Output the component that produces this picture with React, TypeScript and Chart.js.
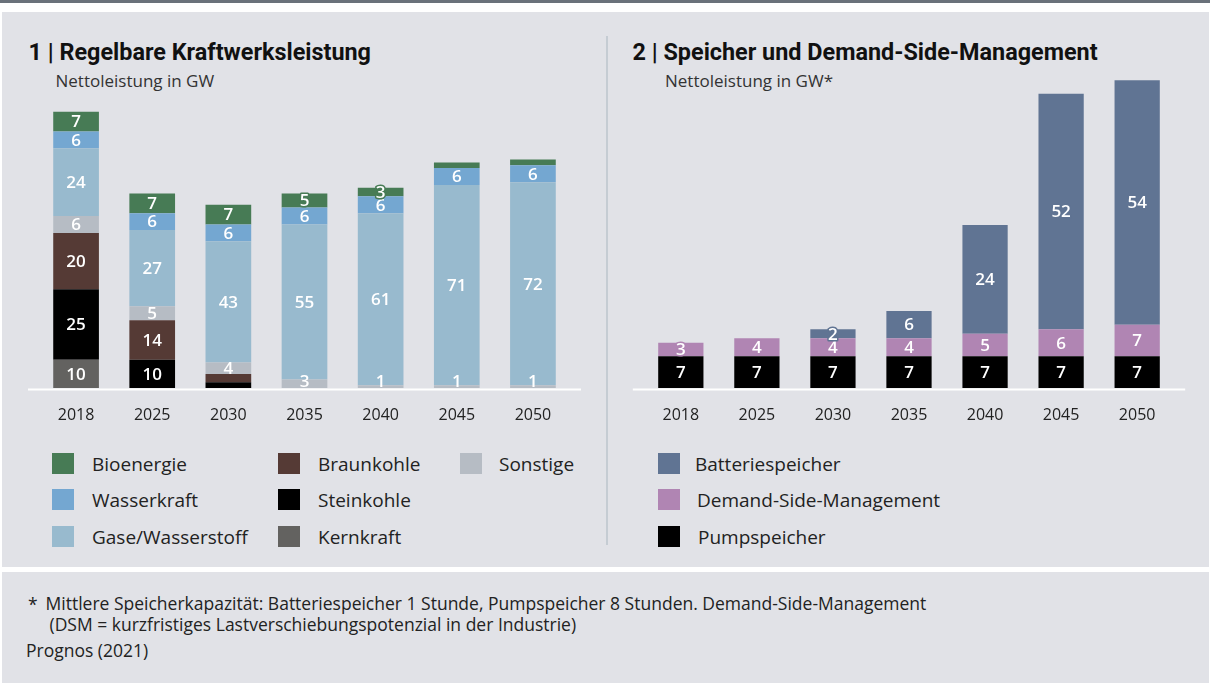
import React, { useEffect, useRef } from 'react';
import { Chart, registerables } from 'chart.js';

Chart.register(...registerables);

// ---------- data ----------
const years = ['2018', '2025', '2030', '2035', '2040', '2045', '2050'];

// Chart 1: Regelbare Kraftwerksleistung (GW)
const kernkraft = [10, 0, 0, 0, 0, 0, 0];
const steinkohle = [25, 10, 2, 0, 0, 0, 0];
const braunkohle = [20, 14, 3, 0, 0, 0, 0];
const sonstige = [6, 5, 4, 3, 1, 1, 1];
const gaseWasserstoff = [24, 27, 43, 55, 61, 71, 72];
const wasserkraft = [6, 6, 6, 6, 6, 6, 6];
const bioenergie = [7, 7, 7, 5, 3, 2, 2];

// Chart 2: Speicher und Demand-Side-Management (GW)
const pumpspeicher = [7, 7, 7, 7, 7, 7, 7];
const demandSide = [3, 4, 4, 4, 5, 6, 7];
const batteriespeicher = [0, 0, 2, 6, 24, 52, 54];

const FONT = '"Open Sans", sans-serif';

const leftSeries = [
  { label: 'Kernkraft', data: kernkraft, color: '#636260', minLabel: 4 },
  { label: 'Steinkohle', data: steinkohle, color: '#000000', minLabel: 4 },
  { label: 'Braunkohle', data: braunkohle, color: '#553a35', minLabel: 4 },
  { label: 'Sonstige', data: sonstige, color: '#b6bcc4', minLabel: 1 },
  { label: 'Gase/Wasserstoff', data: gaseWasserstoff, color: '#98bace', minLabel: 1 },
  { label: 'Wasserkraft', data: wasserkraft, color: '#74a7d1', minLabel: 1 },
  { label: 'Bioenergie', data: bioenergie, color: '#477b55', minLabel: 3 },
];

const rightSeries = [
  { label: 'Pumpspeicher', data: pumpspeicher, color: '#000000', minLabel: 1 },
  { label: 'Demand-Side-Management', data: demandSide, color: '#b085b3', minLabel: 1 },
  { label: 'Batteriespeicher', data: batteriespeicher, color: '#607493', minLabel: 1 },
];

const baseLinePlugin = {
  id: 'baseLine',
  afterDatasetsDraw(chart: any) {
    const { ctx, chartArea } = chart;
    ctx.save();
    ctx.fillStyle = '#ffffff';
    ctx.fillRect(chartArea.left - 10, chartArea.bottom + 0.5, chartArea.right - chartArea.left + 20, 2);
    ctx.restore();
  },
};

const barLabelPlugin = {
  id: 'barLabels',
  afterDatasetsDraw(chart: any) {
    const { ctx, chartArea } = chart;
    const n = chart.data.labels.length;
    const dsCount = chart.data.datasets.length;
    for (let i = 0; i < n; i++) {
      let topIdx = -1;
      for (let d = dsCount - 1; d >= 0; d--) {
        if (chart.data.datasets[d].data[i] > 0) { topIdx = d; break; }
      }
      for (let d = 0; d < dsCount; d++) {
        const ds = chart.data.datasets[d];
        const v = ds.data[i];
        if (!v || v < ds.minLabel) continue;
        const el = chart.getDatasetMeta(d).data[i];
        const p = el.getProps(['x', 'y', 'base'], true);
        let cy = (p.y + p.base) / 2;
        cy = Math.min(cy, chartArea.bottom - 7);
        ctx.save();
        ctx.font = `600 17px ${FONT}`;
        ctx.textAlign = 'center';
        ctx.textBaseline = 'middle';
        if (d === topIdx) {
          ctx.lineWidth = 3;
          ctx.lineJoin = 'round';
          ctx.strokeStyle = ds.backgroundColor;
          ctx.strokeText(String(v), p.x, cy + 1);
        }
        ctx.fillStyle = '#ffffff';
        ctx.fillText(String(v), p.x, cy + 1);
        ctx.restore();
      }
    }
  },
};

function makeConfig(series: any[], yMax: number, pad: any, barPct: number) {
  return {
    type: 'bar' as const,
    data: {
      labels: years,
      datasets: series.map((s) => ({
        label: s.label,
        data: s.data,
        backgroundColor: s.color,
        borderWidth: 0,
        barPercentage: barPct,
        categoryPercentage: 1,
        minLabel: s.minLabel,
      })),
    },
    options: {
      animation: false as const,
      responsive: false,
      maintainAspectRatio: false,
      layout: { padding: pad },
      plugins: { legend: { display: false }, tooltip: { enabled: false } },
      scales: {
        x: {
          stacked: true,
          grid: { display: false, drawTicks: false },
          border: { display: false },
          ticks: { font: { family: 'Open Sans', size: 16 }, color: '#222222', padding: 18 },
          afterFit: (s: any) => { s.height = 52; },
        },
        y: { stacked: true, display: false, min: 0, max: yMax },
      },
    },
    plugins: [baseLinePlugin, barLabelPlugin],
  };
}

function BarCanvas(props: { series: any[]; yMax: number; pad: any; barPct: number; style: any; w: number; h: number }) {
  const ref = useRef<HTMLCanvasElement | null>(null);
  useEffect(() => {
    if (!ref.current) return;
    const chart = new Chart(ref.current, makeConfig(props.series, props.yMax, props.pad, props.barPct) as any);
    return () => chart.destroy();
  }, []);
  return <canvas ref={ref} width={props.w} height={props.h} style={{ position: 'absolute', ...props.style }} />;
}

function LegendItem(props: { x: number; y: number; tx: number; color: string; label: string }) {
  return (
    <>
      <div style={{ position: 'absolute', left: props.x, top: props.y - 10.5, width: 22, height: 21, background: props.color }} />
      <div style={{ position: 'absolute', left: props.tx, top: props.y - 12, height: 24, lineHeight: '24px', fontSize: 19, color: '#222', whiteSpace: 'nowrap' }}>{props.label}</div>
    </>
  );
}

export default function App() {
  const rows = [463.5, 499.5, 536.5];
  const col = (name: string) => leftSeries.find((s) => s.label === name)!.color;
  const rcol = (name: string) => rightSeries.find((s) => s.label === name)!.color;
  const titleStyle = { position: 'absolute' as const, top: 41.3, fontFamily: 'Roboto, sans-serif', fontWeight: 700, fontSize: 23.4, lineHeight: '23.4px', color: '#111', whiteSpace: 'nowrap' as const };
  const subStyle = { position: 'absolute' as const, top: 71.9, fontSize: 17, lineHeight: '17px', color: '#333', whiteSpace: 'nowrap' as const };
  const footStyle = { position: 'absolute' as const, fontSize: 17.5, lineHeight: '17.5px', color: '#222', whiteSpace: 'nowrap' as const };
  return (
    <div style={{ position: 'fixed', left: 0, top: 0, width: 1210, height: 683, background: '#ffffff', fontFamily: FONT, overflow: 'hidden' }}>
      <div style={{ position: 'absolute', left: 0, top: 0, width: 1210, height: 3, background: '#6a717a' }} />
      <div style={{ position: 'absolute', left: 2, top: 12, width: 1207, height: 555, background: '#e1e2e7' }} />
      <div style={{ position: 'absolute', left: 2, top: 572, width: 1207, height: 111, background: '#e1e2e7' }} />
      <div style={{ position: 'absolute', left: 606, top: 36, width: 1.5, height: 509, background: '#c5ccd3' }} />

      <div style={{ ...titleStyle, left: 28.5 }}>1 | Regelbare Kraftwerksleistung</div>
      <div style={{ ...subStyle, left: 55.5 }}>Nettoleistung in GW</div>

      <div style={{ ...titleStyle, left: 632.5 }}>2 | Speicher und Demand-Side-Management</div>
      <div style={{ ...subStyle, left: 665 }}>Nettoleistung in GW*</div>

      <BarCanvas series={leftSeries} yMax={100} pad={{ left: 38, right: 29, top: 16, bottom: 0 }} barPct={0.6} w={600} h={350} style={{ left: 0, top: 90 }} />
      <BarCanvas series={rightSeries} yMax={70} pad={{ left: 42.8, right: 34.8, top: 31.2, bottom: 0 }} barPct={0.595} w={610} h={400} style={{ left: 600, top: 40 }} />

      <LegendItem x={52} y={rows[0]} tx={92} color={col('Bioenergie')} label="Bioenergie" />
      <LegendItem x={52} y={rows[1]} tx={92} color={col('Wasserkraft')} label="Wasserkraft" />
      <LegendItem x={52} y={rows[2]} tx={92} color={col('Gase/Wasserstoff')} label="Gase/Wasserstoff" />
      <LegendItem x={278} y={rows[0]} tx={318} color={col('Braunkohle')} label="Braunkohle" />
      <LegendItem x={278} y={rows[1]} tx={318} color={col('Steinkohle')} label="Steinkohle" />
      <LegendItem x={278} y={rows[2]} tx={318} color={col('Kernkraft')} label="Kernkraft" />
      <LegendItem x={460} y={rows[0]} tx={499} color={col('Sonstige')} label="Sonstige" />

      <LegendItem x={658} y={rows[0]} tx={695} color={rcol('Batteriespeicher')} label="Batteriespeicher" />
      <LegendItem x={658} y={rows[1]} tx={697} color={rcol('Demand-Side-Management')} label="Demand-Side-Management" />
      <LegendItem x={658} y={rows[2]} tx={698} color={rcol('Pumpspeicher')} label="Pumpspeicher" />

      <div style={{ ...footStyle, left: 28, top: 595.5 }}>*</div>
      <div style={{ ...footStyle, left: 45.5, top: 594.5 }}>Mittlere Speicherkapazität: Batteriespeicher 1 Stunde, Pumpspeicher 8 Stunden. Demand-Side-Management</div>
      <div style={{ ...footStyle, left: 49.5, top: 615.5 }}>(DSM = kurzfristiges Lastverschiebungspotenzial in der Industrie)</div>
      <div style={{ ...footStyle, left: 26, top: 641.5 }}>Prognos (2021)</div>
    </div>
  );
}
